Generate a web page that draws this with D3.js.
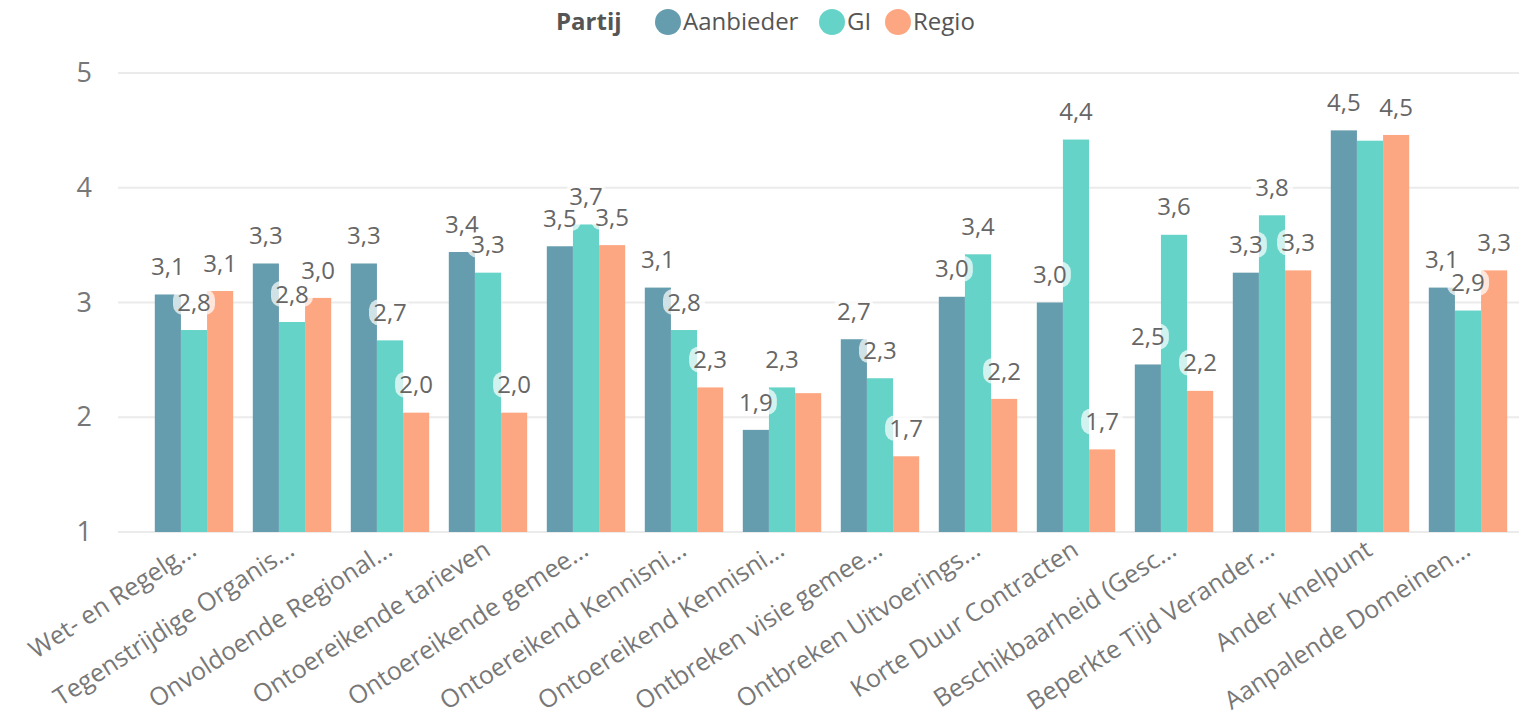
<html>
<head>
<meta charset="UTF-8">
<script src="https://d3js.org/d3.v7.min.js"></script>
<style>
    body { margin: 0; background: #fff; }
    text { font-family: "Open Sans", "DejaVu Sans", sans-serif; }
</style>
</head>
<body>
<svg width="1519" height="722" id="canvas"></svg>
<script>
    // categories (x axis, already truncated like in the report)
    var categories = [
        "Wet- en Regelg...", "Tegenstrijdige Organis...", "Onvoldoende Regional...",
        "Ontoereikende tarieven", "Ontoereikende gemee...", "Ontoereikend Kennisni...",
        "Ontoereikend Kennisni...", "Ontbreken visie gemee...", "Ontbreken Uitvoerings...",
        "Korte Duur Contracten", "Beschikbaarheid (Gesc...", "Beperkte Tijd Verander...",
        "Ander knelpunt", "Aanpalende Domeinen..."
    ];
    var series = ["Aanbieder", "GI", "Regio"];
    var colors = ["#669dae", "#66d3c9", "#fda782"];

    var aanbieder = [3.07, 3.34, 3.34, 3.44, 3.49, 3.13, 1.89, 2.68, 3.05, 3.00, 2.46, 3.26, 4.50, 3.13];
    var gi        = [2.76, 2.83, 2.67, 3.26, 3.68, 2.76, 2.26, 2.34, 3.42, 4.42, 3.59, 3.76, 4.41, 2.93];
    var regio     = [3.10, 3.04, 2.04, 2.04, 3.50, 2.26, 2.21, 1.66, 2.16, 1.72, 2.23, 3.28, 4.46, 3.28];
    var yTicks = [1, 2, 3, 4, 5];

    var values = [aanbieder, gi, regio];

    var svg = d3.select("#canvas");

    var x = d3.scaleBand().domain(categories.map(function (d, i) { return i; }))
        .range([145, 1517]).paddingInner(0.2).paddingOuter(0.1);
    var xs = d3.scaleBand().domain(series).range([0, x.bandwidth()]);
    var y = d3.scaleLinear().domain([1, 5]).range([532, 73]);

    // gridlines
    svg.append("g").selectAll("line")
        .data(yTicks).enter().append("line")
        .attr("x1", 118).attr("x2", 1519)
        .attr("y1", function (d) { return y(d); })
        .attr("y2", function (d) { return y(d); })
        .attr("stroke", "#ebebeb").attr("stroke-width", 2);

    // y axis
    var yAxis = svg.append("g")
        .attr("transform", "translate(92,0)")
        .call(d3.axisLeft(y).tickValues(yTicks).tickFormat(d3.format("d")).tickSize(0).tickPadding(0));
    yAxis.select(".domain").remove();
    yAxis.selectAll("text")
        .attr("font-family", "Open Sans, sans-serif")
        .attr("font-size", 27).attr("fill", "#777");

    // bars
    var groups = svg.append("g").selectAll("g")
        .data(categories).enter().append("g")
        .attr("transform", function (d, i) { return "translate(" + x(i) + ",0)"; });

    groups.selectAll("rect")
        .data(function (d, i) { return series.map(function (s, k) { return { s: s, k: k, v: values[k][i] }; }); })
        .enter().append("rect")
        .attr("x", function (d) { return xs(d.s); })
        .attr("width", xs.bandwidth())
        .attr("y", function (d) { return y(d.v); })
        .attr("height", function (d) { return y(1) - y(d.v); })
        .attr("fill", function (d) { return colors[d.k]; });

    // data labels: highest value placed first, labels that collide are dropped
    var labelLayer = svg.append("g");
    var fmt = function (v) { return v.toFixed(1).replace(".", ","); };
    var lw = 36, lh = 24;
    categories.forEach(function (c, i) {
        var placed = [];
        var order = [0, 1, 2].sort(function (a, b) { return values[b][i] - values[a][i]; });
        order.forEach(function (k) {
            var cx = x(i) + xs(series[k]) + xs.bandwidth() / 2;
            var cy = y(values[k][i]) - 28;
            var hit = placed.some(function (p) {
                return Math.abs(p.cx - cx) < lw && Math.abs(p.cy - cy) < 18;
            });
            if (hit) return;
            placed.push({ cx: cx, cy: cy, k: k });
        });
        placed.forEach(function (p) {
            var lg = labelLayer.append("g");
            lg.append("rect")
                .attr("x", p.cx - lw / 2 - 3).attr("y", p.cy - lh / 2 - 1)
                .attr("width", lw + 6).attr("height", lh + 2)
                .attr("rx", 10).attr("fill", "#fff").attr("fill-opacity", 0.7);
            lg.append("text")
                .attr("x", p.cx).attr("y", p.cy)
                .attr("text-anchor", "middle").attr("dy", "0.36em")
                .attr("font-family", "Roboto, sans-serif")
                .attr("font-size", 24).attr("fill", "#666")
                .text(fmt(values[p.k][i]));
        });
    });

    // x axis labels
    svg.append("g").selectAll("text")
        .data(categories).enter().append("text")
        .attr("transform", function (d, i) {
            return "translate(" + (x(i) + x.bandwidth() / 2 + 4) + ",554) rotate(-33)";
        })
        .attr("text-anchor", "end")
        .attr("font-size", 25).attr("fill", "#777")
        .text(function (d) { return d; });

    // legend
    var legend = svg.append("g").attr("transform", "translate(0,22)");
    legend.append("text").attr("x", 556).attr("dy", "0.35em")
        .attr("font-size", 24).attr("font-weight", "bold").attr("fill", "#555")
        .text("Partij");
    var lx = [668, 832, 898];
    series.forEach(function (s, k) {
        legend.append("circle").attr("cx", lx[k]).attr("cy", 0).attr("r", 13).attr("fill", colors[k]);
        legend.append("text").attr("x", lx[k] + 15).attr("dy", "0.35em")
            .attr("font-size", 24).attr("fill", "#555").text(s);
    });
</script>
</body>
</html>
